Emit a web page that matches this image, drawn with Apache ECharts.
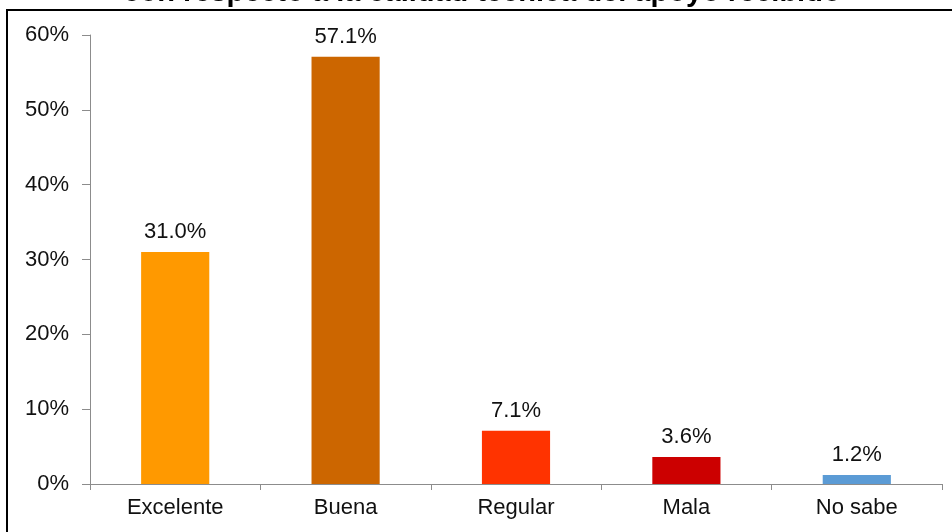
<!DOCTYPE html>
<html>
<head>
<meta charset="utf-8">
<script src="https://cdn.jsdelivr.net/npm/echarts@6/dist/echarts.min.js"></script>
<style>html,body{margin:0;padding:0;background:#fff;}#c{width:952px;height:532px;}</style>
</head>
<body>
<div id="c"></div>
<script>
var categories = ['Excelente', 'Buena', 'Regular', 'Mala', 'No sabe'];
var values = [31.0, 57.1, 7.1, 3.6, 1.2];
var colors = ['#FF9900', '#CC6600', '#FF3300', '#CC0000', '#5B9BD5'];
var titleText = 'con respecto a la calidad técnica del apoyo recibido';

var FONT = '"Liberation Sans", Arial, sans-serif';
var chart = echarts.init(document.getElementById('c'));
chart.setOption({
  animation: false,
  backgroundColor: '#fff',
  textStyle: { fontFamily: FONT },
  graphic: [
    { type: 'text', x: 482, y: 7, z: 1, style: { text: titleText, textAlign: 'center', textVerticalAlign: 'bottom', font: 'bold 29px ' + FONT, fill: '#000' } },
    { type: 'rect', x: 7, y: 10, z: 10, shape: { x: 0, y: 0, width: 960, height: 540 }, style: { fill: 'none', stroke: '#000', lineWidth: 2 } }
  ],
  grid: { left: 90, right: 10, top: 35, bottom: 48, containLabel: false },
  xAxis: {
    type: 'category',
    data: categories,
    axisLine: { lineStyle: { color: '#8c8c8c', width: 1 } },
    axisTick: { show: true, length: 6, lineStyle: { color: '#8c8c8c' } },
    axisLabel: { color: '#111', fontSize: 22, margin: 13, fontFamily: FONT }
  },
  yAxis: {
    type: 'value',
    min: 0, max: 60, interval: 10,
    splitLine: { show: false },
    axisLine: { show: true, lineStyle: { color: '#8c8c8c', width: 1 } },
    axisTick: { show: true, length: 8, lineStyle: { color: '#8c8c8c' } },
    axisLabel: { color: '#111', fontSize: 22, margin: 21, formatter: '{value}%', fontFamily: FONT }
  },
  series: [{
    type: 'bar',
    barWidth: '40%',
    data: values.map(function (v, i) { return { value: v, itemStyle: { color: colors[i] } }; }),
    label: {
      show: true, position: 'top', distance: 9, color: '#111', fontSize: 22,
      fontFamily: FONT,
      formatter: function (p) { return p.value.toFixed(1) + '%'; }
    }
  }]
});
</script>
</body>
</html>
